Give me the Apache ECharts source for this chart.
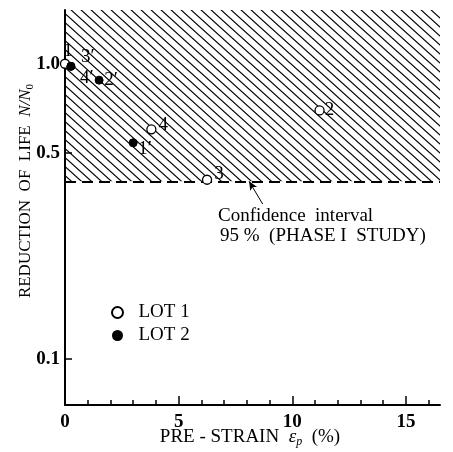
<!DOCTYPE html>
<html>
<head>
<meta charset="utf-8">
<script src="https://cdn.jsdelivr.net/npm/echarts@6/dist/echarts.min.js"></script>
<style>html,body{margin:0;padding:0;background:#fff}#c{width:453px;height:452px}</style>
</head>
<body>
<div id="c"></div>
<script>
// ---- data ----
const lot1X = [0, 11.2, 6.25, 3.8];
const lot1Y = [1.0, 0.695, 0.405, 0.60];
const lot1Labels = ['1', '2', '3', '4'];
const lot2X = [3.0, 1.5, 0.26, 0.26];
const lot2Y = [0.54, 0.88, 0.98, 0.98];
const lot2Labels = ['1\u2032', '2\u2032', '3\u2032', '4\u2032'];
const xTickLabels = [0, 5, 10, 15];
const xMinorTicks = [0,1,2,3,4,5,6,7,8,9,10,11,12,13,14,15,16];
const yTickLabels = [0.1, 0.5, 1.0];
const confidenceLevel = [0.4];
const arrowFrom = [8.7, 0.335];
const arrowTo = [8.1, 0.4];

// ---- styling maps (not data) ----
const SERIF = '"Liberation Serif", "DejaVu Serif", serif';
const lot1LabelOffset = { '1': [3, -13], '2': [10, 0], '3': [12, -6], '4': [12, -4] };
const lot2LabelOffset = { '1\u2032': [12, 6], '2\u2032': [12, 0], '3\u2032': [17, -9], '4\u2032': [16, 12] };

function hatchPattern() {
  const w = 10, h = 9;
  const c = document.createElement('canvas');
  c.width = w; c.height = h;
  const ctx = c.getContext('2d');
  ctx.strokeStyle = '#000';
  ctx.lineWidth = 1.2;
  ctx.beginPath();
  ctx.moveTo(-w, -h); ctx.lineTo(2 * w, 2 * h);
  ctx.moveTo(0, -h); ctx.lineTo(2 * w, h);
  ctx.moveTo(-w, 0); ctx.lineTo(w, 2 * h);
  ctx.stroke();
  return { image: c, repeat: 'repeat' };
}

function pts(xs, ys, labels, offs) {
  return xs.map((x, i) => ({
    value: [x, ys[i]],
    name: labels[i],
    label: { offset: offs[labels[i]] }
  }));
}

const chart = echarts.init(document.getElementById('c'), null, { renderer: 'canvas' });
const xMax = 16.5, yMin = 0.07, yMax = 1.52;

chart.setOption({
  animation: false,
  backgroundColor: '#fff',
  grid: { left: 65, top: 10, right: 13, bottom: 47, containLabel: false },
  xAxis: [{
    type: 'value', min: 0, max: xMax, interval: 5,
    axisLine: { lineStyle: { color: '#000', width: 2 } },
    axisTick: { inside: true, length: 5, customValues: xMinorTicks, lineStyle: { color: '#000', width: 1.5 } },
    axisLabel: { customValues: xTickLabels, color: '#000', fontFamily: SERIF, fontWeight: 'bold', fontSize: 19, margin: 8 },
    splitLine: { show: false }
  }, {
    type: 'value', min: 0, max: xMax, interval: 5, position: 'bottom',
    axisLine: { show: false },
    axisTick: { inside: true, length: 9, customValues: xTickLabels, lineStyle: { color: '#000', width: 1.5 } },
    axisLabel: { show: false },
    splitLine: { show: false }
  }],
  yAxis: {
    type: 'log', logBase: 10, min: yMin, max: yMax,
    axisLine: { show: true, lineStyle: { color: '#000', width: 2 } },
    axisTick: { show: true, inside: true, length: 7, customValues: yTickLabels, lineStyle: { color: '#000', width: 1.5 } },
    axisLabel: { customValues: yTickLabels, color: '#000', fontFamily: SERIF, fontWeight: 'bold', fontSize: 19, margin: 5,
      formatter: v => Number(v).toFixed(1) },
    splitLine: { show: false },
    minorTick: { show: false }
  },
  legend: {
    orient: 'vertical', left: 106, top: 298, itemWidth: 20, itemHeight: 11, itemGap: 4,
    data: ['LOT 1', 'LOT 2'],
    textStyle: { color: '#000', fontFamily: SERIF, fontSize: 19, padding: [0, 0, 0, 6] }
  },
  series: [{
    name: 'LOT 1', type: 'scatter', symbol: 'circle', symbolSize: 9,
    itemStyle: { color: '#fff', borderColor: '#000', borderWidth: 1.3, opacity: 1 },
    label: { show: true, formatter: '{b}', position: 'inside', color: '#000', fontFamily: SERIF, fontSize: 19 },
    data: pts(lot1X, lot1Y, lot1Labels, lot1LabelOffset),
    z: 5,
    markArea: {
      silent: true,
      itemStyle: { color: hatchPattern(), opacity: 1 },
      data: [[{ yAxis: confidenceLevel[0] }, { yAxis: yMax }]]
    },
    markLine: {
      silent: true, symbol: ['none', 'none'],
      label: { show: false },
      lineStyle: { color: '#000', width: 2, type: [11, 6] },
      data: [{ yAxis: confidenceLevel[0] }]
    }
  }, {
    name: 'LOT 2', type: 'scatter', symbol: 'circle', symbolSize: 8,
    itemStyle: { color: '#000', borderColor: '#000', opacity: 1 },
    label: { show: true, formatter: '{b}', position: 'inside', color: '#000', fontFamily: SERIF, fontSize: 19 },
    data: pts(lot2X, lot2Y, lot2Labels, lot2LabelOffset),
    z: 5,
    markLine: {
      silent: true, symbol: ['none', 'arrow'], symbolSize: [6, 9],
      label: { show: false },
      lineStyle: { color: '#000', width: 1, type: 'solid' },
      data: [[{ coord: arrowFrom }, { coord: arrowTo }]]
    }
  }],
  graphic: [{
    type: 'text', left: 218, top: 207,
    style: { text: 'Confidence  interval', fill: '#000', font: '19px ' + SERIF }
  }, {
    type: 'text', left: 220, top: 227,
    style: { text: '95 %  (PHASE I  STUDY)', fill: '#000', font: '19px ' + SERIF }
  }, {
    type: 'text', x: 26, y: 191, rotation: Math.PI / 2,
    style: {
      text: '{r|REDUCTION  OF  LIFE  }{i|N/N}{s|0}',
      align: 'center', verticalAlign: 'middle',
      rich: {
        r: { fontFamily: SERIF, fontSize: 17, fill: '#000' },
        i: { fontFamily: SERIF, fontSize: 17, fontStyle: 'italic', fill: '#000' },
        s: { fontFamily: SERIF, fontSize: 11, fill: '#000', padding: [8, 0, 0, 0] }
      }
    }
  }, {
    type: 'text', x: 250, y: 437,
    style: {
      text: '{r|PRE - STRAIN  }{i|\u03b5}{s|p}{r|  (%)}',
      align: 'center', verticalAlign: 'middle',
      rich: {
        r: { fontFamily: SERIF, fontSize: 19, fill: '#000' },
        i: { fontFamily: SERIF, fontSize: 19, fontStyle: 'italic', fill: '#000' },
        s: { fontFamily: SERIF, fontSize: 12, fontStyle: 'italic', fill: '#000', padding: [9, 0, 0, 0] }
      }
    }
  }]
});
</script>
</body>
</html>
